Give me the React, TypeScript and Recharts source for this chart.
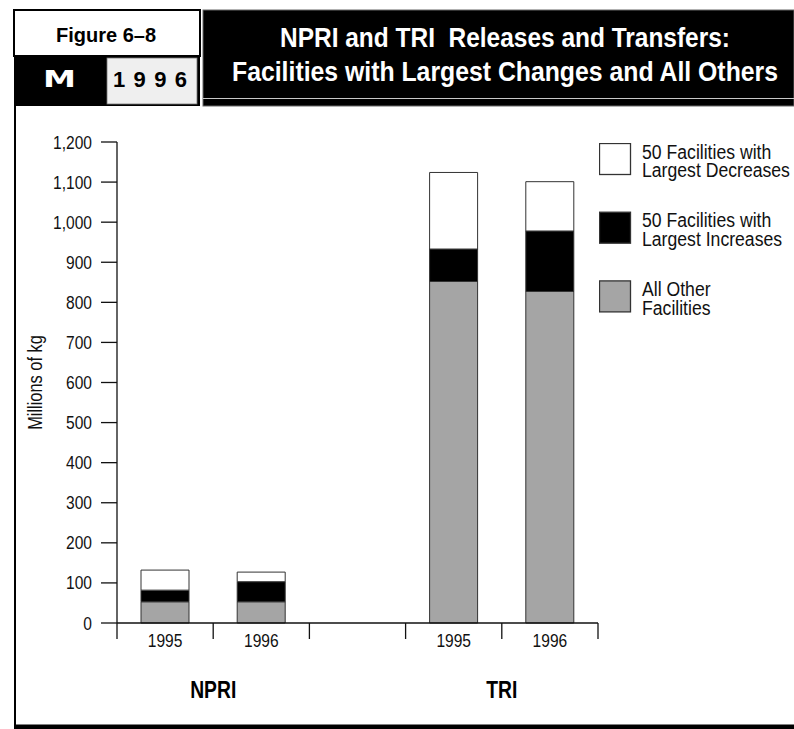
import React from 'react';
import { BarChart, Bar, XAxis, YAxis, Legend } from 'recharts';

const categories = ['NPRI-1995', 'NPRI-1996', 'gap', 'TRI-1995', 'TRI-1996'];
const yearLabels = ['1995', '1996', '', '1995', '1996'];
const groupLabels = ['NPRI', 'NPRI', '', 'TRI', 'TRI'];
const allOthers = [53, 53, null, 852, 827];
const largestIncreases = [29, 50, null, 81, 151];
const largestDecreases = [50, 24, null, 191, 123];
const yTicks = [0, 100, 200, 300, 400, 500, 600, 700, 800, 900, 1000, 1100, 1200];

const seriesNames: Record<string, string> = {
  others: 'All Other\nFacilities',
  inc: '50 Facilities with\nLargest Increases',
  dec: '50 Facilities with\nLargest Decreases',
};
const legendOrder = ['dec', 'inc', 'others'];

const data = categories.map((c, i) => ({
  cat: c,
  others: allOthers[i],
  inc: largestIncreases[i],
  dec: largestDecreases[i],
}));

const SANS = '"Liberation Sans", Arial, sans-serif';
const INK = '#111';

const NT = (p: any) => {
  const { x, y, anchor = 'start', size = 19, weight = 'normal', fill = INK, sx = 0.82, rotate = 0, children } = p;
  return (
    <text
      transform={`translate(${x},${y})${rotate ? ` rotate(${rotate})` : ''} scale(${sx},1)`}
      x={0}
      y={0}
      textAnchor={anchor}
      fontFamily={SANS}
      fontSize={size}
      fontWeight={weight}
      fill={fill}
      style={{ whiteSpace: 'pre' }}
    >
      {children}
    </text>
  );
};

const XTick = (props: any) => {
  const { x, y, payload } = props;
  const i: number = payload?.index ?? props.index ?? 0;
  const half: number = payload?.offset ?? 48;
  const g = groupLabels[i];
  const showGroup = g !== '' && groupLabels[i + 1] === g && groupLabels[i - 1] !== g;
  return (
    <g>
      <line x1={x - half} x2={x - half} y1={y} y2={y + 16} stroke={INK} strokeWidth={1.3} />
      {i === categories.length - 1 && (
        <line x1={x + half} x2={x + half} y1={y} y2={y + 16} stroke={INK} strokeWidth={1.3} />
      )}
      <NT x={x} y={y + 24} anchor="middle" size={19}>{yearLabels[i]}</NT>
      {showGroup && (
        <NT x={x + half} y={y + 74.5} anchor="middle" size={23} weight="bold" fill="#000" sx={0.84}>{g}</NT>
      )}
    </g>
  );
};

const YTick = (props: any) => {
  const { x, y, payload } = props;
  const v = Number(payload?.value ?? 0);
  return <NT x={x} y={y + 6.5} anchor="end" size={19}>{v.toLocaleString('en-US')}</NT>;
};

const LegendContent = (props: any) => {
  const items = [...(props.payload || [])].sort(
    (a: any, b: any) => legendOrder.indexOf(a.dataKey) - legendOrder.indexOf(b.dataKey)
  );
  return (
    <svg width={195} height={210} style={{ display: 'block' }}>
      {items.map((it: any, k: number) => {
        const lines = String(it.value).split('\n');
        const top = 0.5 + k * 68.7;
        return (
          <g key={k}>
            <rect x={0.5} y={top} width={31} height={31} fill={it.color} stroke="#333" strokeWidth={1.3} />
            {lines.map((l, j) => (
              <NT key={j} x={43} y={top + 15 + j * 18.8} size={21} sx={0.84}>{l}</NT>
            ))}
          </g>
        );
      })}
    </svg>
  );
};

const YLabel = (props: any) => {
  const vb = props.viewBox || { x: 0, y: 142, width: 0, height: 481 };
  const cy = vb.y + vb.height / 2;
  return <NT x={42} y={cy} anchor="middle" size={20} rotate={-90}>Millions of kg</NT>;
};

const Header = () => (
  <svg width={794} height={729} style={{ position: 'absolute', left: 0, top: 0 }}>
    <rect x={14} y={10} width={186} height={46} fill="#fff" stroke="#000" strokeWidth={2} />
    <rect x={14} y={56} width={186} height={50} fill="#000" />
    <rect x={107} y={58} width={90} height={46} fill="#efefef" stroke="#777" strokeWidth={0.8} />
    <text x={106} y={42} textAnchor="middle" fontFamily={SANS} fontWeight="bold" fontSize={21} textLength={100} lengthAdjust="spacingAndGlyphs" fill="#000">
      Figure 6–8
    </text>
    <text x={43} y={86.7} fontFamily='"DejaVu Sans", sans-serif' fontWeight="bold" fontSize={23} textLength={33} lengthAdjust="spacingAndGlyphs" fill="#fff">
      M
    </text>
    <text x={113} y={86.7} fontFamily={SANS} fontWeight="bold" fontSize={22} textLength={74} lengthAdjust="spacing" fill="#000">
      1996
    </text>
    <rect x={203} y={10} width={591} height={96} fill="#000" stroke="#666" strokeWidth={1} />
    <line x1={203} x2={794} y1={98.5} y2={98.5} stroke="#c8c8c8" strokeWidth={1.2} />
    <text x={505} y={46.7} textAnchor="middle" fontFamily={SANS} fontWeight="bold" fontSize={28.5} textLength={450} lengthAdjust="spacingAndGlyphs" fill="#fff" style={{ whiteSpace: 'pre' }}>
      NPRI and TRI  Releases and Transfers:
    </text>
    <text x={505} y={81} textAnchor="middle" fontFamily={SANS} fontWeight="bold" fontSize={28.5} textLength={546} lengthAdjust="spacingAndGlyphs" fill="#fff">
      Facilities with Largest Changes and All Others
    </text>
    <rect x={14} y={105} width={2} height={622} fill="#000" />
    <rect x={14} y={724.5} width={780} height={4.5} fill="#000" />
  </svg>
);

export default function App() {
  return (
    <div style={{ position: 'absolute', left: 0, top: 0, width: 794, height: 729, background: '#fff', overflow: 'hidden' }}>
      <Header />
      <div style={{ position: 'absolute', left: 0, top: 0 }}>
        <BarChart width={794} height={729} data={data} margin={{ top: 142, right: 196, bottom: 76, left: 57 }} barSize={48}>
          <XAxis
            dataKey="cat"
            height={30}
            interval={0}
            tickLine={false}
            tickSize={0}
            tickMargin={0}
            axisLine={{ stroke: INK, strokeWidth: 1.3 }}
            tick={<XTick />}
          />
          <YAxis
            width={60}
            domain={[0, 1200]}
            ticks={yTicks}
            interval={0}
            tickSize={16}
            tickMargin={9}
            axisLine={{ stroke: INK, strokeWidth: 1.3 }}
            tickLine={{ stroke: INK, strokeWidth: 1.3 }}
            tick={<YTick />}
            label={<YLabel />}
          />
          <Legend
            layout="vertical"
            align="center"
            verticalAlign="middle"
            wrapperStyle={{ left: 599, top: 143, width: 195, height: 210 }}
            content={<LegendContent />}
          />
          <Bar dataKey="others" name={seriesNames.others} stackId="a" fill="#a5a5a5" stroke="#333" strokeWidth={1} isAnimationActive={false} />
          <Bar dataKey="inc" name={seriesNames.inc} stackId="a" fill="#000" stroke="#333" strokeWidth={1} isAnimationActive={false} />
          <Bar dataKey="dec" name={seriesNames.dec} stackId="a" fill="#fff" stroke="#333" strokeWidth={1} isAnimationActive={false} />
        </BarChart>
      </div>
    </div>
  );
}
